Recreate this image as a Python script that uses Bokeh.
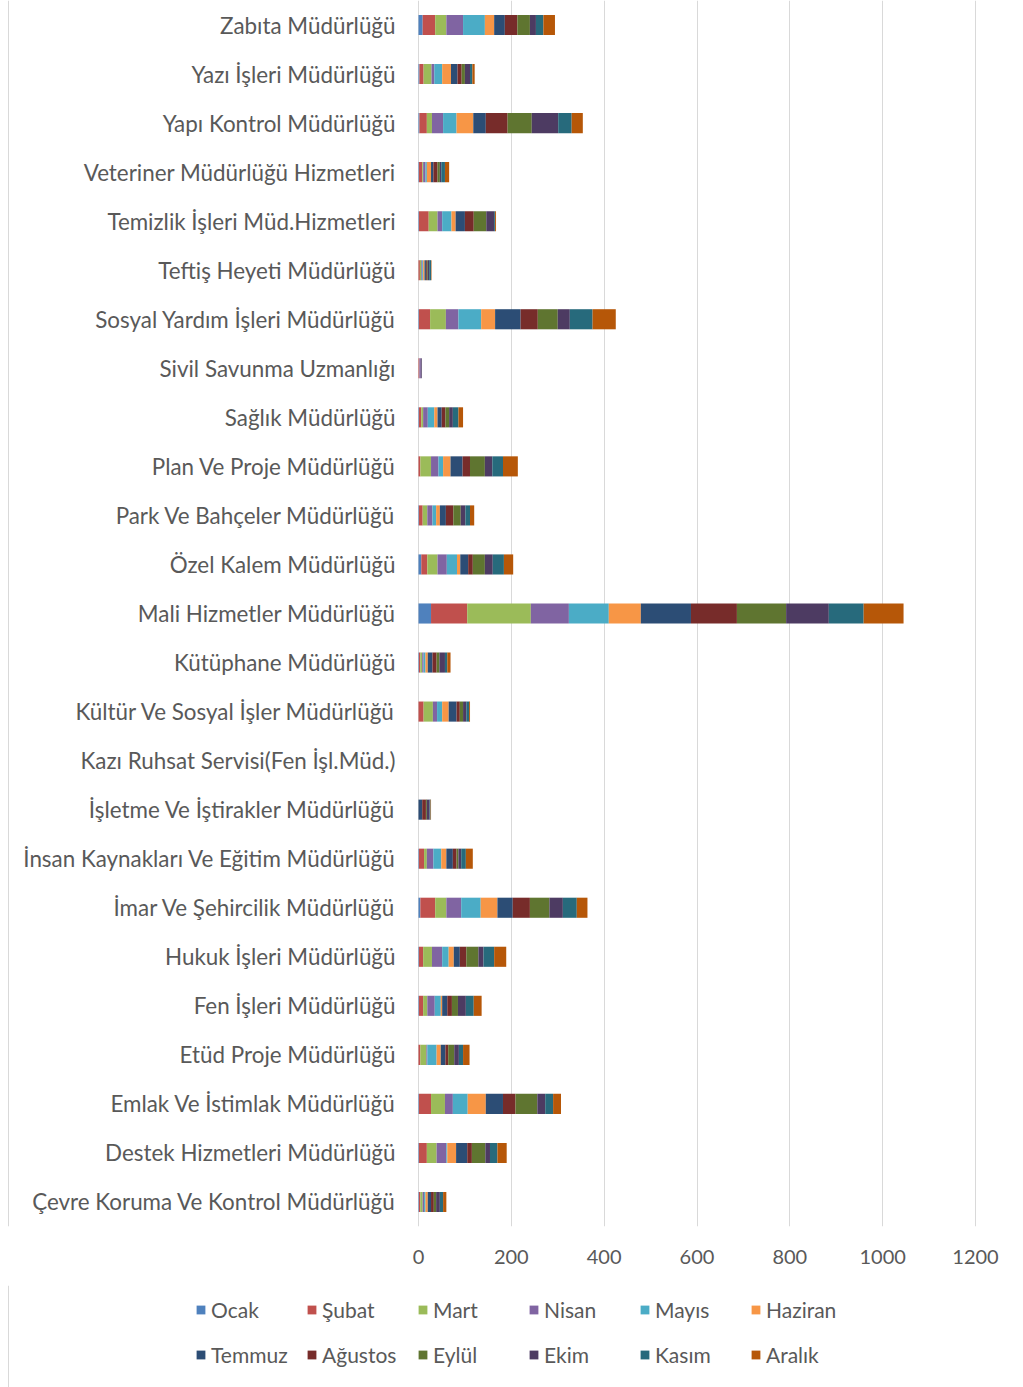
from bokeh.plotting import figure
from bokeh.layouts import column
from bokeh.models import ColumnDataSource, FactorRange, Range1d, Legend, LegendItem, FixedTicker, Span
from bokeh.core.properties import value
from bokeh.embed import file_html
from bokeh.resources import INLINE

# Departments, listed from the top of the chart downwards
departments = [
    "Zabıta Müdürlüğü",
    "Yazı İşleri Müdürlüğü",
    "Yapı Kontrol Müdürlüğü",
    "Veteriner Müdürlüğü Hizmetleri",
    "Temizlik İşleri Müd.Hizmetleri",
    "Teftiş Heyeti Müdürlüğü",
    "Sosyal Yardım İşleri Müdürlüğü",
    "Sivil Savunma Uzmanlığı",
    "Sağlık Müdürlüğü",
    "Plan Ve Proje Müdürlüğü",
    "Park Ve Bahçeler Müdürlüğü",
    "Özel Kalem Müdürlüğü",
    "Mali Hizmetler Müdürlüğü",
    "Kütüphane Müdürlüğü",
    "Kültür Ve Sosyal İşler Müdürlüğü",
    "Kazı Ruhsat Servisi(Fen İşl.Müd.)",
    "İşletme Ve İştirakler Müdürlüğü",
    "İnsan Kaynakları Ve Eğitim Müdürlüğü",
    "İmar Ve Şehircilik Müdürlüğü",
    "Hukuk İşleri Müdürlüğü",
    "Fen İşleri Müdürlüğü",
    "Etüd Proje Müdürlüğü",
    "Emlak Ve İstimlak Müdürlüğü",
    "Destek Hizmetleri Müdürlüğü",
    "Çevre Koruma Ve Kontrol Müdürlüğü",
]

months = ["Ocak", "Şubat", "Mart", "Nisan", "Mayıs", "Haziran",
          "Temmuz", "Ağustos", "Eylül", "Ekim", "Kasım", "Aralık"]

# Monthly counts per department (same order as departments)
ocak    = [9, 2, 2, 1, 1, 0, 1, 0, 1, 0, 1, 6, 27, 1, 0, 0, 0, 1, 4, 1, 1, 0, 1, 1, 1]
subat   = [27, 9, 16, 7, 21, 3, 24, 2, 5, 4, 8, 13, 78, 3, 11, 0, 0, 11, 32, 9, 9, 4, 26, 17, 3]
mart    = [24, 17, 11, 2, 19, 3, 34, 0, 4, 23, 10, 22, 137, 4, 20, 0, 0, 6, 24, 19, 9, 13, 30, 21, 5]
nisan   = [36, 6, 24, 5, 10, 2, 27, 3, 10, 16, 11, 20, 82, 3, 9, 0, 0, 14, 32, 22, 16, 2, 17, 21, 3]
mayis   = [47, 17, 29, 3, 20, 2, 49, 0, 14, 10, 8, 22, 86, 4, 11, 0, 0, 17, 42, 14, 13, 20, 32, 2, 3]
haziran = [20, 19, 36, 9, 9, 3, 30, 0, 7, 16, 8, 7, 69, 5, 14, 0, 0, 11, 36, 11, 3, 9, 39, 19, 5]
temmuz  = [23, 14, 27, 5, 20, 3, 55, 0, 9, 26, 13, 17, 108, 10, 17, 0, 8, 14, 33, 13, 11, 10, 37, 24, 7]
agustos = [27, 9, 47, 9, 19, 2, 37, 0, 8, 16, 16, 10, 99, 9, 7, 0, 8, 8, 37, 14, 10, 6, 27, 10, 6]
eylul   = [27, 7, 52, 5, 27, 2, 43, 0, 8, 32, 16, 26, 106, 6, 7, 0, 2, 4, 42, 26, 13, 13, 47, 29, 5]
ekim    = [13, 11, 57, 3, 17, 3, 26, 2, 8, 16, 10, 17, 92, 12, 7, 0, 6, 6, 29, 11, 17, 10, 17, 10, 8]
kasim   = [16, 5, 29, 8, 2, 4, 49, 0, 12, 23, 10, 24, 75, 5, 6, 0, 2, 10, 30, 23, 17, 9, 17, 16, 7]
aralik  = [25, 5, 24, 9, 2, 1, 50, 0, 10, 32, 9, 20, 86, 7, 2, 0, 1, 15, 23, 26, 17, 14, 17, 20, 7]

series = [ocak, subat, mart, nisan, mayis, haziran,
          temmuz, agustos, eylul, ekim, kasim, aralik]

colors = ["#4F81BD", "#C0504D", "#9BBB59", "#8064A2", "#4BACC6", "#F79646",
          "#2C4D75", "#772C2A", "#5F7530", "#4D3B62", "#276A7C", "#B65708"]

value_ticks = [0, 200, 400, 600, 800, 1000, 1200]

# Bokeh draws factors bottom-up, so reverse to keep Zabıta on top
cats = departments[::-1]
keys = [f"m{i:02d}" for i in range(1, 13)]
data = {"dept": cats}
for k, vals in zip(keys, series):
    data[k] = vals[::-1]
source = ColumnDataSource(data)

TEXT = "#595959"
FONT = "Lato"
EDGE = "#D9D9D9"

# Page geometry: the frame runs nearly edge to edge so the department names
# can sit left of the zero line; the value axis spans 418px..975px for 0..1200
W, H = 1023, 1387
FRAME_LEFT = 7
CHART_H = 1285          # frame (1226px) plus the value axis strip
ZERO_PX, TOP_PX = 418, 975
px_per_unit = (TOP_PX - ZERO_PX) / value_ticks[-1]
x_start = -(ZERO_PX - FRAME_LEFT) / px_per_unit
x_end = value_ticks[-1] + (W - TOP_PX) / px_per_unit
name_x = -(ZERO_PX - 395) / px_per_unit

p = figure(
    width=W, height=CHART_H,
    y_range=FactorRange(factors=cats, range_padding=0),
    x_range=Range1d(x_start, x_end),
    output_backend="svg", toolbar_location=None,
    y_axis_location=None,
    min_border_left=FRAME_LEFT, min_border_right=0,
    min_border_top=0, min_border_bottom=CHART_H - 1226,
)

renderers = p.hbar_stack(keys, y="dept", height=0.41, color=colors,
                         line_color=None, source=source)

# Department names, right-aligned just left of the zero line
p.text(x=name_x, y="dept", text="dept", source=source,
       text_align="right", text_baseline="middle",
       text_font=value(FONT), text_font_size="22.4px", text_color=TEXT)

# thin chart-area edge on the left
p.add_layout(Span(location=x_start + 1 / px_per_unit, dimension="height",
                  line_color=EDGE, line_width=1))

p.outline_line_color = None
p.ygrid.grid_line_color = None
p.xgrid.grid_line_color = EDGE
p.xgrid.grid_line_width = 1

p.xaxis.ticker = FixedTicker(ticks=value_ticks)
p.xaxis.axis_line_color = None
p.xaxis.major_tick_line_color = None
p.xaxis.minor_tick_line_color = None
p.xaxis.major_tick_out = 0
p.xaxis.major_tick_in = 0
p.xaxis.major_label_standoff = 23
p.xaxis.major_label_text_font = FONT
p.xaxis.major_label_text_font_size = "20px"
p.xaxis.major_label_text_color = TEXT

# Legend strip under the chart. It carries the same month series, with its
# view range set beside the bars so that only the legend swatches show.
lg = figure(
    width=W, height=H - CHART_H,
    y_range=FactorRange(factors=cats, range_padding=0),
    x_range=Range1d(-3, -2),
    output_backend="svg", toolbar_location=None,
    x_axis_location=None, y_axis_location=None,
    min_border_left=FRAME_LEFT, min_border_right=0,
    min_border_top=0, min_border_bottom=0,
)
lg.outline_line_color = None
lg.grid.grid_line_color = None
swatches = lg.hbar_stack(keys, y="dept", height=0.41, color=colors,
                         line_color=None, source=source)
lg.add_layout(Span(location=-3 + 1 / (W - FRAME_LEFT), dimension="height",
                   line_color=EDGE, line_width=1))

legend = Legend(
    items=[LegendItem(label=m, renderers=[r]) for m, r in zip(months, swatches)],
    orientation="horizontal", ncols=6,
    location=(188, 14),
    glyph_width=11, glyph_height=11,
    label_standoff=5, label_width=88, label_height=38,
    spacing=7, padding=5, margin=0,
    border_line_color=None, background_fill_alpha=0,
    label_text_font=FONT, label_text_font_size="21px",
    label_text_color=TEXT,
)
lg.add_layout(legend, "center")

open("out.html", "w").write(file_html(column(p, lg, spacing=0), INLINE))
